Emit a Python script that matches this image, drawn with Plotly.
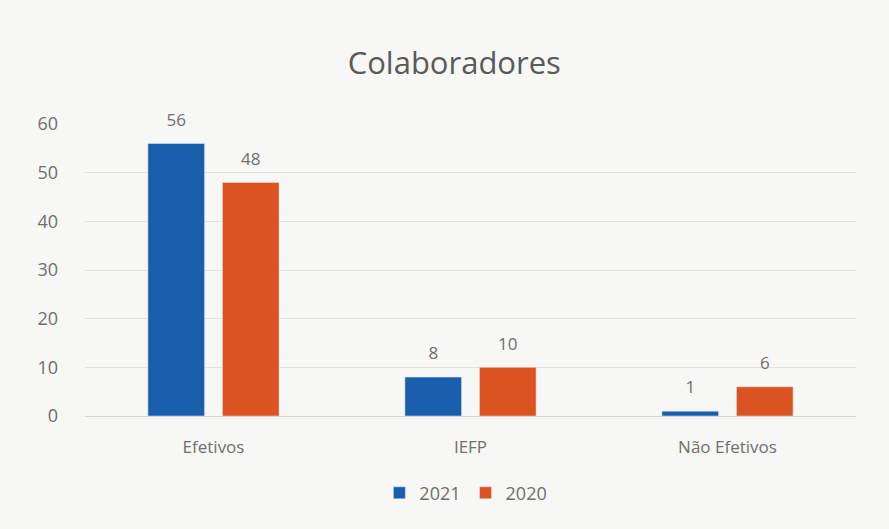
import plotly.graph_objects as go

categories = ["Efetivos", "IEFP", "Não Efetivos"]
values_2021 = [56, 8, 1]
values_2020 = [48, 10, 6]
series_names = ["2021", "2020"]
y_ticks = [0, 10, 20, 30, 40, 50, 60]

blue = "#1a5fae"
orange = "#db5321"
txt = "#6f6f6f"
FONT = "Open Sans"

fig = go.Figure()
for name, vals, col in [(series_names[0], values_2021, blue), (series_names[1], values_2020, orange)]:
    fig.add_trace(go.Bar(
        x=categories, y=vals, name=name, marker_color=col,
        text=[str(v) for v in vals],
        texttemplate="<span style='font-size:17px'>%{text}</span><br> ",
        textposition="outside",
        textfont=dict(size=9, color=txt, family=FONT),
        cliponaxis=False,
    ))

fig.update_layout(
    width=889, height=529,
    paper_bgcolor="#f7f7f5", plot_bgcolor="#f7f7f5",
    margin=dict(l=85, r=33, t=124, b=113),
    title=dict(text="Colaboradores", x=0.511, xanchor="center", y=0.881, yanchor="middle",
               font=dict(size=31, color="#5a5a5a", family=FONT)),
    barmode="group", bargap=0.42, bargroupgap=0.24,
    font=dict(family=FONT, color=txt, size=17),
    legend=dict(orientation="h", x=0.494, xanchor="center", y=-0.264, yanchor="middle",
                font=dict(size=18, color=txt), bgcolor="rgba(0,0,0,0)"),
    showlegend=True,
)
fig.update_yaxes(range=[0, 60], tickvals=y_ticks, showgrid=True, gridcolor="#e2e2e2",
                 zeroline=True, zerolinecolor="#d6d6d6", zerolinewidth=1,
                 tickfont=dict(size=18, color=txt), ticklabelstandoff=26)
fig.update_xaxes(tickfont=dict(size=17, color=txt), showline=False, ticklabelstandoff=19)

fig.write_html("out.html")
